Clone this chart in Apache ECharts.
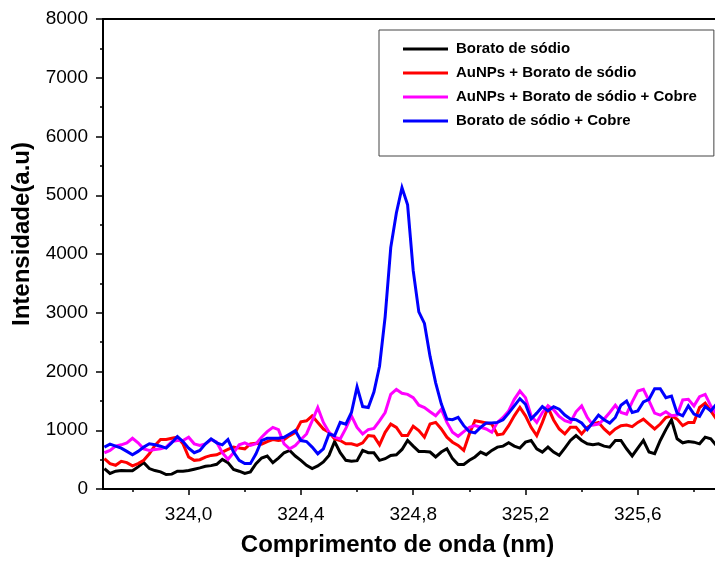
<!DOCTYPE html>
<html>
<head>
<meta charset="utf-8">
<script src="https://cdn.jsdelivr.net/npm/echarts@6/dist/echarts.min.js"></script>
<style>
  html, body { margin: 0; padding: 0; background: #fff; }
  #chart { width: 715px; height: 562px; }
</style>
</head>
<body>
<div id="chart"></div>
<script>
// Wavelength (nm)
const wavelength = [
  323.70, 323.72, 323.74, 323.76, 323.78, 323.80, 323.82, 323.84, 323.86, 323.88,
  323.90, 323.92, 323.94, 323.96, 323.98, 324.00, 324.02, 324.04, 324.06, 324.08,
  324.10, 324.12, 324.14, 324.16, 324.18, 324.20, 324.22, 324.24, 324.26, 324.28,
  324.30, 324.32, 324.34, 324.36, 324.38, 324.40, 324.42, 324.44, 324.46, 324.48,
  324.50, 324.52, 324.54, 324.56, 324.58, 324.60, 324.62, 324.64, 324.66, 324.68,
  324.70, 324.72, 324.74, 324.76, 324.78, 324.80, 324.82, 324.84, 324.86, 324.88,
  324.90, 324.92, 324.94, 324.96, 324.98, 325.00, 325.02, 325.04, 325.06, 325.08,
  325.10, 325.12, 325.14, 325.16, 325.18, 325.20, 325.22, 325.24, 325.26, 325.28,
  325.30, 325.32, 325.34, 325.36, 325.38, 325.40, 325.42, 325.44, 325.46, 325.48,
  325.50, 325.52, 325.54, 325.56, 325.58, 325.60, 325.62, 325.64, 325.66, 325.68,
  325.70, 325.72, 325.74, 325.76, 325.78, 325.80, 325.82, 325.84, 325.86, 325.88
];

// Intensity (a.u) for each sample
const boratoSodio = [
  348, 264, 303, 314, 309, 309, 376, 449, 348, 314,
  292, 247, 253, 303, 303, 314, 337, 359, 387, 398,
  421, 505, 449, 331, 303, 264, 292, 430, 527, 561,
  449, 527, 617, 656, 561, 488, 404, 348, 393, 460,
  572, 808, 617, 488, 471, 483, 656, 617, 617, 488,
  516, 572, 583, 673, 826, 730, 640, 640, 629, 545,
  629, 685, 517, 416, 416, 489, 545, 629, 584, 657,
  713, 730, 786, 730, 697, 797, 826, 685, 629, 713,
  629, 573, 697, 826, 910, 826, 769, 753, 769, 730,
  713, 826, 826, 685, 562, 697, 826, 629, 601, 826,
  1011, 1179, 854, 786, 808, 797, 769, 882, 854, 741
];

const auNPsBorato = [
  516, 432, 404, 471, 449, 393, 432, 488, 600, 741,
  842, 842, 864, 881, 769, 544, 488, 499, 544, 572,
  583, 628, 673, 713, 696, 684, 769, 780, 763, 808,
  842, 825, 842, 909, 965, 1144, 1161, 1246, 1133, 1021,
  965, 853, 825, 769, 769, 741, 786, 909, 898, 752,
  965, 1105, 1049, 909, 910, 1067, 994, 882, 1106, 1134,
  1022, 882, 797, 741, 657, 938, 1162, 1145, 1123, 1106,
  921, 938, 1078, 1246, 1387, 1246, 1050, 910, 1134, 1387,
  1175, 1022, 938, 1050, 1050, 938, 1050, 1106, 1134, 1022,
  938, 1022, 1078, 1089, 1061, 1134, 1190, 1106, 1022, 1106,
  1218, 1246, 1190, 1078, 1134, 1134, 1387, 1461, 1330, 1190
];

const auNPsBoratoCobre = [
  617, 656, 729, 752, 786, 864, 786, 684, 656, 673,
  684, 713, 808, 825, 825, 881, 769, 741, 769, 842,
  797, 617, 505, 617, 752, 786, 741, 770, 881, 976,
  1049, 1010, 769, 684, 741, 842, 937, 1161, 1386, 1133,
  965, 881, 853, 1032, 1246, 1049, 937, 1010, 1032, 1161,
  1302, 1610, 1694, 1630, 1611, 1555, 1426, 1387, 1314, 1246,
  1358, 1134, 966, 898, 977, 1050, 1078, 1050, 1022, 966,
  1134, 1218, 1330, 1527, 1667, 1555, 1246, 1134, 1302, 1415,
  1350, 1235, 1162, 1134, 1314, 1415, 1218, 1089, 1106, 1190,
  1302, 1426, 1302, 1274, 1482, 1667, 1695, 1499, 1291, 1258,
  1314, 1246, 1258, 1516, 1527, 1415, 1572, 1611, 1415, 1274
];

const boratoCobre = [
  713, 763, 729, 696, 640, 583, 640, 713, 769, 752,
  729, 696, 786, 892, 808, 696, 617, 656, 769, 853,
  786, 752, 842, 628, 488, 432, 432, 600, 825, 864,
  864, 864, 881, 937, 993, 825, 808, 713, 600, 684,
  937, 909, 1133, 1105, 1302, 1739, 1403, 1386, 1650, 2089,
  2931, 4109, 4698, 5130, 4838, 3716, 3015, 2818, 2257, 1808,
  1450, 1190, 1179, 1218, 1078, 977, 955, 1050, 1123, 1123,
  1134, 1179, 1291, 1415, 1538, 1443, 1190, 1291, 1403, 1330,
  1400, 1358, 1258, 1190, 1179, 1123, 1011, 1134, 1258, 1179,
  1123, 1218, 1426, 1499, 1302, 1330, 1482, 1527, 1706, 1706,
  1555, 1583, 1291, 1246, 1415, 1274, 1235, 1403, 1330, 1443
];

const seriesNames = [
  'Borato de sódio',
  'AuNPs + Borato de sódio',
  'AuNPs + Borato de sódio + Cobre',
  'Borato de sódio + Cobre'
];
const seriesColors = ['#000000', '#ff0000', '#ff00ff', '#0000ff'];
const seriesValues = [boratoSodio, auNPsBorato, auNPsBoratoCobre, boratoCobre];

// Axis ticks
const xLabelTicks = [324.0, 324.4, 324.8, 325.2, 325.6];
const xMinorTicks = [323.8, 324.2, 324.6, 325.0, 325.4, 325.8];
const X_MIN = 323.695;
const X_MAX = 325.875;

const FONT = "'Liberation Sans', Arial, Helvetica, sans-serif";

const chart = echarts.init(document.getElementById('chart'), null, { renderer: 'canvas' });

const option = {
  animation: false,
  backgroundColor: '#ffffff',
  textStyle: { fontFamily: FONT },
  grid: { left: 103, right: 0, top: 19, bottom: 68, containLabel: false },
  legend: {
    data: seriesNames,
    orient: 'vertical',
    left: 379,
    top: 30,
    padding: [7, 17, 23, 24],
    itemGap: 0,
    itemWidth: 45,
    itemHeight: 3,
    icon: 'rect',
    borderColor: '#444',
    borderWidth: 1,
    backgroundColor: '#fff',
    textStyle: {
      fontFamily: FONT,
      fontSize: 15,
      fontWeight: 'bold',
      color: '#000',
      lineHeight: 24,
      padding: [0, 0, 0, 3]
    }
  },
  xAxis: [
    {
      type: 'value',
      min: X_MIN,
      max: X_MAX,
      position: 'bottom',
      name: 'Comprimento de onda (nm)',
      nameLocation: 'middle',
      nameGap: 44,
      nameTextStyle: {
        fontFamily: FONT, fontSize: 24, fontWeight: 'bold', color: '#000',
        padding: [0, 23, 0, 0]
      },
      axisLine: { show: true, onZero: false, lineStyle: { color: '#000', width: 2 } },
      axisTick: {
        show: true, inside: false, length: 6, customValues: xLabelTicks,
        lineStyle: { color: '#000', width: 1.5 }
      },
      axisLabel: {
        show: true, margin: 16, customValues: xLabelTicks,
        fontFamily: FONT, fontSize: 19, color: '#000',
        formatter: v => v.toFixed(1).replace('.', ',')
      },
      splitLine: { show: false }
    },
    {
      type: 'value',
      min: X_MIN,
      max: X_MAX,
      position: 'bottom',
      axisLine: { show: false, onZero: false },
      axisTick: {
        show: true, inside: false, length: 3, customValues: xMinorTicks,
        lineStyle: { color: '#000', width: 1.5 }
      },
      axisLabel: { show: false },
      splitLine: { show: false }
    },
    {
      type: 'value',
      min: X_MIN,
      max: X_MAX,
      position: 'top',
      axisLine: { show: true, onZero: false, lineStyle: { color: '#000', width: 2 } },
      axisTick: { show: false },
      axisLabel: { show: false },
      splitLine: { show: false }
    }
  ],
  yAxis: {
    type: 'value',
    min: 0,
    max: 8000,
    interval: 1000,
    name: 'Intensidade(a.u)',
    nameLocation: 'middle',
    nameGap: 65,
    nameRotate: 90,
    nameTextStyle: {
      fontFamily: FONT, fontSize: 24, fontWeight: 'bold', color: '#000',
      padding: [0, 0, 0, 40]
    },
    axisLine: { show: true, onZero: false, lineStyle: { color: '#000', width: 2 } },
    axisTick: { show: true, inside: false, length: 7, lineStyle: { color: '#000', width: 1.5 } },
    minorTick: { show: true, splitNumber: 2, length: 3, lineStyle: { color: '#000', width: 1.5 } },
    axisLabel: {
      margin: 15, fontFamily: FONT, fontSize: 19, color: '#000',
      formatter: v => String(v)
    },
    splitLine: { show: false },
    minorSplitLine: { show: false }
  },
  series: seriesNames.map((name, i) => ({
    name: name,
    type: 'line',
    xAxisIndex: 0,
    data: wavelength.map((w, k) => [w, seriesValues[i][k]]),
    showSymbol: false,
    symbol: 'none',
    clip: true,
    lineStyle: { color: seriesColors[i], width: 3, join: 'miter' },
    itemStyle: { color: seriesColors[i] },
    emphasis: { disabled: true }
  }))
};

chart.setOption(option);
</script>
</body>
</html>
